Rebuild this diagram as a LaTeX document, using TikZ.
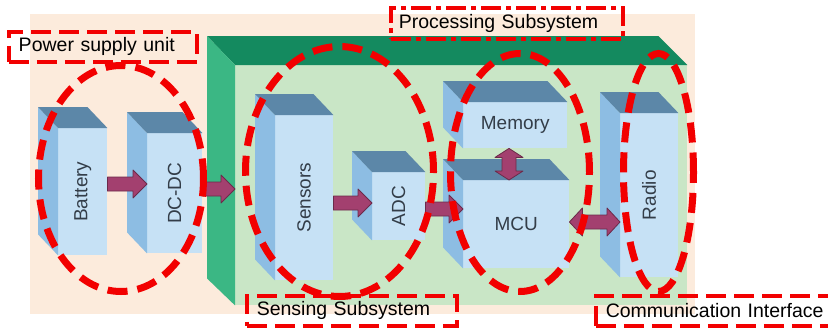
\documentclass[tikz,border=0pt]{standalone}
\usepackage{fontspec}
\setmainfont{Liberation Sans}
\usetikzlibrary{calc,shapes.geometric}

\definecolor{peach}{HTML}{FCEBDC}
\definecolor{boardfront}{HTML}{C9E6C6}
\definecolor{boardtop}{HTML}{148A5F}
\definecolor{boardside}{HTML}{3BB784}
\definecolor{blueface}{HTML}{C6E1F5}
\definecolor{blueside}{HTML}{8DBDE3}
\definecolor{bluetop}{HTML}{5C87A8}
\definecolor{labelgrey}{HTML}{333D48}
\definecolor{arrowfill}{HTML}{A3406F}
\definecolor{arrowline}{HTML}{6B2A4A}
\definecolor{dashred}{HTML}{F20000}

\newcommand{\drawcube}[6]{%
  \node[face, minimum width=#4, minimum height=#5] (#1) at (#2,#3) {#6};
  \fill[blueside] (#1.north west) -- ++(-20,-21) -- ($(#1.south west)+(-20,-21)$) -- (#1.south west) -- cycle;
  \fill[bluetop] (#1.north west) -- ++(-20,-21) -- ($(#1.north east)+(-20,-21)$) -- (#1.north east) -- cycle;}

\newcommand{\fatarrow}[3][14pt]{%
  \coordinate (as) at #2; \coordinate (ae) at #3;
  \coordinate (ah) at ($(ae)!#1!(as)$);
  \draw[fatarr] ($(as)!7pt!90:(ae)$) -- ($(ah)!7pt!-90:(as)$) -- ($(ah)!14pt!-90:(as)$) -- (ae)
    -- ($(ah)!14pt!90:(as)$) -- ($(ah)!7pt!90:(as)$) -- ($(as)!7pt!-90:(ae)$) -- cycle;}

\newcommand{\darrow}[3][13pt]{%
  \coordinate (as) at #2; \coordinate (ae) at #3;
  \coordinate (ah) at ($(ae)!#1!(as)$); \coordinate (at) at ($(as)!#1!(ae)$);
  \draw[fatarr] (as) -- ($(at)!14pt!90:(ae)$) -- ($(at)!7pt!90:(ae)$) -- ($(ah)!7pt!-90:(as)$)
    -- ($(ah)!14pt!-90:(as)$) -- (ae) -- ($(ah)!14pt!90:(as)$) -- ($(ah)!7pt!90:(as)$)
    -- ($(at)!7pt!-90:(ae)$) -- ($(at)!14pt!-90:(ae)$) -- cycle;}

\begin{document}
\begin{tikzpicture}[x=1pt,y=-1pt,
  face/.style={fill=blueface, anchor=north west, inner sep=0pt, text=labelgrey, font=\fontsize{19}{22}\selectfont},
  ring/.style={ellipse, draw=dashred, line width=7pt, dash pattern=on 20pt off 10pt, inner sep=0pt},
  tag/.style={draw=dashred, line width=3.5pt, dash pattern=on 20pt off 8pt, anchor=north west, inner ysep=0pt,
    inner xsep=10pt, minimum height=30pt, align=left, font=\fontsize{19.5}{22}\selectfont},
  fatarr/.style={fill=arrowfill, draw=arrowline, line width=0.8pt, line join=round}]
  \useasboundingbox (0,0) rectangle (828,330);
  \fill[peach] (30,14) rectangle (695,314);

  \node[fill=boardfront, anchor=north west, inner sep=0pt, minimum width=452pt, minimum height=240pt] (board) at (235,65) {};
  \fill[boardtop] (board.north west) -- ++(-28,-29) -- ($(board.north east)+(-29,-29)$) -- (board.north east) -- cycle;
  \fill[boardside] (board.north west) -- ++(-28,-29) -- ($(board.south west)+(-28,-27)$) -- (board.south west) -- cycle;

  \drawcube{bat}{58}{128}{49pt}{127pt}{\rotatebox{90}{Battery}}
  \drawcube{dcdc}{147}{133}{55pt}{120pt}{\rotatebox{90}{DC-DC}}
  \drawcube{sens}{275}{115}{58pt}{165pt}{\rotatebox{90}{Sensors}}
  \drawcube{adc}{372}{172}{53pt}{68pt}{\rotatebox{90}{ADC}}
  \drawcube{mem}{463}{102}{104pt}{46pt}{Memory}
  \drawcube{mcu}{463}{180}{106pt}{88pt}{MCU}
  \drawcube{radio}{620}{113}{58pt}{164pt}{\rotatebox{90}{Radio}}

  \fatarrow{(bat.east |- 0,184)}{(dcdc.west |- 0,184)}
  \fatarrow{(dcdc.east |- 0,189)}{(board.west |- 0,189)}
  \fatarrow{(sens.east |- 0,203)}{(adc.west |- 0,203)}
  \fatarrow{(adc.east |- 0,209)}{(mcu.west |- 0,209)}
  \darrow[9pt]{(mem.south -| 509,0)}{(mcu.north -| 509,0)}
  \darrow{(mcu.east |- 0,222)}{(radio.west |- 0,222)}

  \node[ring, minimum width=165pt, minimum height=226pt] (pwrring) at (121,178.5) {};
  \node[ring, minimum width=188pt, minimum height=250pt] (sensring) at (339.5,171.5) {};
  \node[ring, minimum width=139pt, minimum height=238pt] (procring) at (520,172.5) {};
  \node[ring, minimum width=70pt, minimum height=238pt] (commring) at (658.5,172.5) {};

  \node[tag, text width=168pt] (pwrtag) at (7,30) {Power supply unit};
  \node[tag, text width=216pt, inner xsep=8pt, minimum height=31pt,
    dash pattern=on 20pt off 5pt on 5pt off 5pt] (proctag) at (389,6) {Processing Subsystem};
  \node[tag, text width=190pt] (senstag) at (245,294) {Sensing Subsystem};
  \node[tag, text width=226pt] (commtag) at (594,294) {Communication Interface};
\end{tikzpicture}
\end{document}
